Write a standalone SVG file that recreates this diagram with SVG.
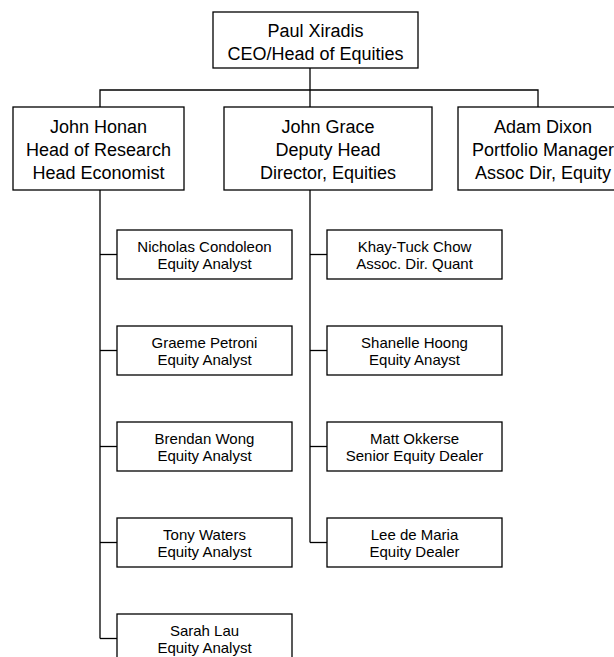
<svg xmlns="http://www.w3.org/2000/svg" width="614" height="657" viewBox="0 0 614 657">
<style>
rect{fill:#fff;stroke:#000;stroke-width:1.3}
.c line,.c path{stroke:#000;stroke-width:1.3;fill:none}
text{font-family:"Liberation Sans",Arial,sans-serif;fill:#000;text-anchor:middle}
.big{font-size:18px}
.sm{font-size:15px}
</style>
<rect x="0" y="0" width="614" height="657" style="stroke:none"/>
<g class="c" id="connectors">
<line x1="310" y1="68" x2="310" y2="107"/>
<path d="M100 107V90H538V107"/>
<line x1="100" y1="190" x2="100" y2="638.5"/>
<line x1="100" y1="254.5" x2="117" y2="254.5"/>
<line x1="100" y1="350.5" x2="117" y2="350.5"/>
<line x1="100" y1="446.5" x2="117" y2="446.5"/>
<line x1="100" y1="542.5" x2="117" y2="542.5"/>
<line x1="100" y1="638.5" x2="117" y2="638.5"/>
<line x1="310" y1="190" x2="310" y2="542.5"/>
<line x1="310" y1="254.5" x2="327" y2="254.5"/>
<line x1="310" y1="350.5" x2="327" y2="350.5"/>
<line x1="310" y1="446.5" x2="327" y2="446.5"/>
<line x1="310" y1="542.5" x2="327" y2="542.5"/>
</g>
<g id="xiradis"><rect x="213" y="12" width="205" height="56"/><text class="big" x="315.5" y="37">Paul Xiradis</text><text class="big" x="315.5" y="60">CEO/Head of Equities</text></g>
<g id="honan"><rect x="13" y="107" width="171" height="83"/><text class="big" x="98.5" y="133">John Honan</text><text class="big" x="98.5" y="156">Head of Research</text><text class="big" x="98.5" y="179">Head Economist</text></g>
<g id="grace"><rect x="224" y="107" width="208" height="83"/><text class="big" x="328" y="133">John Grace</text><text class="big" x="328" y="156">Deputy Head</text><text class="big" x="328" y="179">Director, Equities</text></g>
<g id="dixon"><rect x="458" y="107" width="170" height="83"/><text class="big" x="543" y="133">Adam Dixon</text><text class="big" x="543" y="156">Portfolio Manager</text><text class="big" x="543" y="179">Assoc Dir, Equity</text></g>
<g id="condoleon"><rect x="117" y="230" width="175" height="49"/><text class="sm" x="204.5" y="252">Nicholas Condoleon</text><text class="sm" x="204.5" y="269">Equity Analyst</text></g>
<g id="petroni"><rect x="117" y="326" width="175" height="49"/><text class="sm" x="204.5" y="348">Graeme Petroni</text><text class="sm" x="204.5" y="365">Equity Analyst</text></g>
<g id="wong"><rect x="117" y="422" width="175" height="49"/><text class="sm" x="204.5" y="444">Brendan Wong</text><text class="sm" x="204.5" y="461">Equity Analyst</text></g>
<g id="waters"><rect x="117" y="518" width="175" height="49"/><text class="sm" x="204.5" y="540">Tony Waters</text><text class="sm" x="204.5" y="557">Equity Analyst</text></g>
<g id="lau"><rect x="117" y="614" width="175" height="60"/><text class="sm" x="204.5" y="636">Sarah Lau</text><text class="sm" x="204.5" y="653">Equity Analyst</text></g>
<g id="chow"><rect x="327" y="230" width="175" height="49"/><text class="sm" x="414.5" y="252">Khay-Tuck Chow</text><text class="sm" x="414.5" y="269">Assoc. Dir. Quant</text></g>
<g id="hoong"><rect x="327" y="326" width="175" height="49"/><text class="sm" x="414.5" y="348">Shanelle Hoong</text><text class="sm" x="414.5" y="365">Equity Anayst</text></g>
<g id="okkerse"><rect x="327" y="422" width="175" height="49"/><text class="sm" x="414.5" y="444">Matt Okkerse</text><text class="sm" x="414.5" y="461">Senior Equity Dealer</text></g>
<g id="demaria"><rect x="327" y="518" width="175" height="49"/><text class="sm" x="414.5" y="540">Lee de Maria</text><text class="sm" x="414.5" y="557">Equity Dealer</text></g>
</svg>
